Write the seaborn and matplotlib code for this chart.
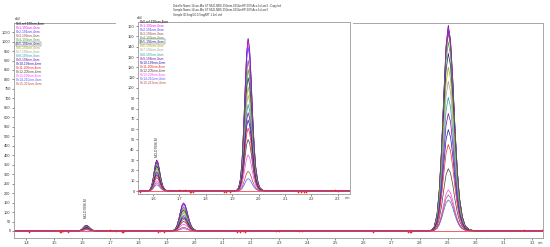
import numpy as np
import pandas as pd
import matplotlib
matplotlib.use("Agg")
import matplotlib.pyplot as plt
import seaborn as sns
from matplotlib.patches import Rectangle
from matplotlib.ticker import MultipleLocator, FormatStrFormatter

# ---------------- data ----------------
channels = ["Ch0-ref:190nm,4nm", "Ch1-190nm,4nm", "Ch2-191nm,4nm", "Ch3-192nm,4nm",
            "Ch4-193nm,4nm", "Ch5-194nm,4nm", "Ch6-195nm,4nm", "Ch7-196nm,4nm",
            "Ch8-197nm,4nm", "Ch9-198nm,4nm", "Ch10-199nm,4nm", "Ch11-200nm,4nm",
            "Ch12-205nm,4nm", "Ch13-208nm,4nm", "Ch14-210nm,4nm", "Ch15-215nm,4nm"]
colors = ["#000000", "#ff00ff", "#3a3aff", "#a04040", "#3c9a3c", "#20207a", "#a8a800",
          "#a0a0a0", "#20a0a0", "#8a00a8", "#1818b0", "#ff2020", "#404040", "#ff40ff",
          "#4a5cff", "#c04a3a"]

# retention times (min)
peak_rt = [1.614, 1.960, 2.902]
# peak heights (mAU) per channel
h_peak1 = [30, 29, 28, 27, 25, 24, 22, 21, 19, 18, 16, 15, 13, 10, 6, 8]
h_peak2 = [148, 147, 140, 127, 118, 110, 101, 93, 84, 76, 69, 61, 50, 35, 12, 19]
h_peak3 = [1085, 1077, 1060, 1045, 997, 938, 865, 790, 705, 620, 535, 456, 329, 217, 164, 190]
# normalized peak profile read from the largest peak (time offset, fraction of apex)
prof_dt = [-0.075, -0.06, -0.05, -0.04, -0.032, -0.024, -0.016, -0.008, 0.0,
           0.008, 0.016, 0.024, 0.032, 0.04, 0.05, 0.06, 0.075, 0.1]
prof_f = [0.0, 0.004, 0.02, 0.08, 0.2, 0.4, 0.66, 0.9, 1.0,
          0.93, 0.74, 0.5, 0.3, 0.16, 0.07, 0.025, 0.006, 0.0]
peak_width = [0.58, 0.72, 1.0]

# baseline noise / event marks (red), offsets in main-axis mAU
noise_x = [1.41, 1.52, 1.525, 1.53, 1.55, 1.70, 1.72, 1.74, 1.745, 1.75, 1.87, 1.875,
           1.89, 2.15, 2.16, 2.17, 2.18, 2.29, 2.30, 2.37, 2.38, 2.635, 2.76, 2.765,
           2.77, 3.17, 3.235]
noise_y = [-4, -3, -6, -2, -5, 3, 2, -3, -5, -2, -4, -2, -5, -3, -5, -2, -4, 2, 1,
           2, 2, -4, -3, -5, -6, 3, 3]

header = ["Datafile Name:14cun-Mix ST MLD-NBS-250mm-0154mHP-50%Acn-1ul-ser3 - Copy.lcd",
          "Sample Name:14cun-Mix ST MLD-NBS-250mm-0154mHP-50%Acn-1ul-ser3",
          "Sample ID:5mg/L0.0-5mg/MT 1.2ml.vial"]
peak_label = "MCLD7096.M"

main_xlim = (1.357, 3.239)
main_ylim = (-37, 1098)
ins_xlim = (1.543, 2.346)
ins_ylim = (-2.9, 164)

# ---------------- build long table ----------------
rows = []
for ch, a, b, c in zip(channels, h_peak1, h_peak2, h_peak3):
    xs = [main_xlim[0]]
    ys = [0.0]
    for rt, w, h in zip(peak_rt, peak_width, (a, b, c)):
        for dt, f in zip(prof_dt, prof_f):
            xs.append(rt + w * dt)
            ys.append(h * f)
    xs.append(main_xlim[1])
    ys.append(0.0)
    for x, y in zip(xs, ys):
        rows.append((ch, x, y))
df = pd.DataFrame(rows, columns=["channel", "time", "mAU"])
palette = dict(zip(channels, colors))

sns.set_theme(style="white")
plt.rcParams["font.family"] = ["Liberation Sans", "DejaVu Sans"]

W, H = 550, 247
fig = plt.figure(figsize=(W / 100, H / 100), dpi=100)

def fx(px):
    return px / W

def fy(py):
    return 1 - py / H

ax = fig.add_axes([fx(14), fy(238), fx(543) - fx(14), fy(23) - fy(238)])
axi = fig.add_axes([fx(138), fy(194), fx(350) - fx(138), fy(22) - fy(194)])

for a_, xl, yl, nscale in ((ax, main_xlim, main_ylim, 1.0), (axi, ins_xlim, ins_ylim, 0.25)):
    sns.lineplot(data=df, x="time", y="mAU", hue="channel", hue_order=channels,
                 palette=palette, estimator=None, sort=False, legend=False,
                 linewidth=0.5, ax=a_)
    a_.plot(list(main_xlim), [0, 0], color="#ff3030", lw=0.55, zorder=4)
    a_.plot(noise_x, [v * nscale for v in noise_y], linestyle="none", marker="+",
            color="#ff2020", markersize=1.8, markeredgewidth=0.45, zorder=5)
    a_.set_xlim(*xl)
    a_.set_ylim(*yl)
    a_.set_xlabel("")
    a_.set_ylabel("")
    for s in a_.spines.values():
        s.set_color("#9a9a9a")
        s.set_linewidth(0.6)
    a_.tick_params(axis="both", which="major", labelsize=2.8, length=1.6, width=0.4,
                   pad=0.8, colors="#333333", bottom=True, left=True)
    a_.tick_params(axis="x", which="minor", length=0.9, width=0.3, colors="#333333",
                   bottom=True)

ax.xaxis.set_minor_locator(MultipleLocator(0.02))
ax.yaxis.set_major_locator(MultipleLocator(50))
axi.xaxis.set_minor_locator(MultipleLocator(0.02))
axi.yaxis.set_major_locator(MultipleLocator(10))
ax.set_xticks([t / 10 for t in range(14, 33)])
ax.xaxis.set_major_formatter(FormatStrFormatter("%.1f"))
ax.set_xlim(*main_xlim)
axi.set_xticks([t / 10 for t in range(16, 24)])
axi.xaxis.set_major_formatter(FormatStrFormatter("%.1f"))
axi.set_xlim(*ins_xlim)

# white background behind the inset (covers main plot incl. inset tick labels)
ax.add_patch(Rectangle((fx(116), fy(199)), fx(353) - fx(116), fy(19) - fy(199),
                       transform=fig.transFigure, facecolor="white", edgecolor="none",
                       zorder=10, clip_on=False))
axi.set_facecolor("white")

# peak label annotations
ax.text(peak_rt[0], 70, peak_label, rotation=90, ha="center", va="bottom",
        fontsize=2.4, color="#333333")
axi.text(peak_rt[0], 33, peak_label, rotation=90, ha="center", va="bottom",
         fontsize=2.4, color="#333333")

# axis unit labels
fig.text(fx(15), fy(21), "mAU", fontsize=1.9, color="#333333", va="bottom")
fig.text(fx(137), fy(20), "mAU", fontsize=1.9, color="#333333", va="bottom")
fig.text(fx(538), fy(243), "min", fontsize=2.4, color="#333333", va="center")
fig.text(fx(345), fy(197.5), "min", fontsize=2.4, color="#333333", va="center", zorder=20)

# legends (coloured text entries)
for i, (ch, col) in enumerate(zip(channels, colors)):
    bb = dict(boxstyle="square,pad=0.1", fc="none", ec="#555555", lw=0.3) if i == 5 else None
    fig.text(fx(16), fy(24 + i * 4.0), ch, fontsize=2.3, color=col, va="center",
             ha="left", bbox=bb)
    fig.text(fx(140), fy(21.3 + i * 4.1), ch, fontsize=2.3, color=col, va="center",
             ha="left", bbox=bb, zorder=20)

# header
for i, line in enumerate(header):
    fig.text(fx(173), fy(6 + i * 4.3), line, fontsize=2.0, color="#333333", va="center")

fig.savefig("out.png", dpi=100)
